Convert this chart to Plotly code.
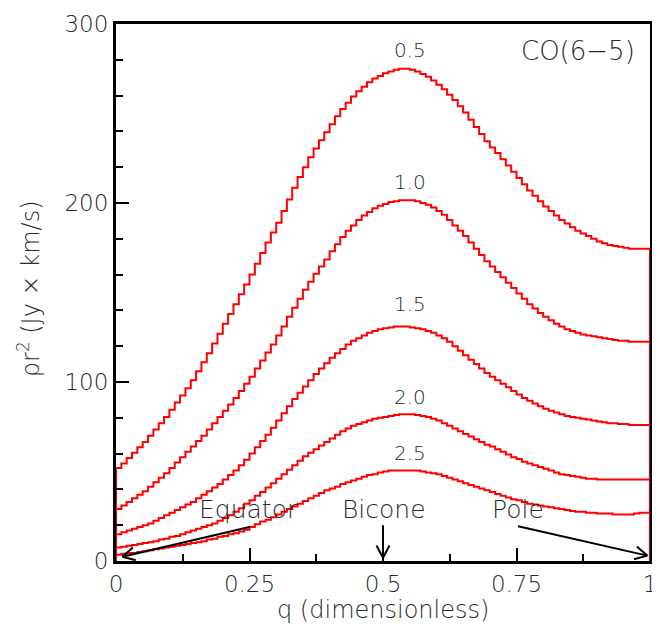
import numpy as np
import plotly.graph_objects as go

# ---------------- data ----------------
series_labels = ["0.5", "1.0", "1.5", "2.0", "2.5"]

vals_05 = [52, 54.5, 57.5, 60.5, 63.5, 66.5, 70, 73.5, 77, 80.5,
           84.5, 88.5, 92.5, 96.5, 101, 106, 111, 116, 121.5, 127,
           132.5, 138, 143.5, 149, 154.5, 160, 166, 172, 178, 183.5,
           189, 195.5, 202, 208.5, 214.5, 220, 225.5, 230.5, 235, 239.5,
           244, 248.5, 252.5, 256, 259.5, 262.5, 265, 267.5, 269.5, 271,
           272.5, 273.5, 274.5, 275, 275, 274.5, 273.5, 272, 270.5, 268.5,
           266, 263.5, 260.5, 257.5, 254, 250.5, 246.5, 242.5, 238.5, 234.5,
           231, 228, 224.5, 221, 217.5, 214, 210.5, 207, 204, 201,
           198, 195.5, 193, 190.5, 188.5, 186.5, 184.5, 183, 181.5, 180,
           178.5, 177.5, 176.5, 176, 175.5, 175, 174.5, 174.5, 174.5, 174.5]

vals_10 = [29, 31, 33, 35, 37, 39, 41.5, 44, 46.5, 49,
           52, 55, 58, 61, 64, 67, 70, 73.5, 77, 80.5,
           84, 87.5, 91, 95, 99, 103, 107.5, 112, 116.5, 121,
           126, 131, 136.5, 141.5, 146.5, 151.5, 156, 160.5, 164.5, 168.5,
           173, 177, 181, 184.5, 187.5, 190.5, 193, 195, 197, 198.5,
           199.5, 200.5, 201, 201.5, 201.5, 201.5, 201, 200, 199, 197.5,
           195.5, 193.5, 190.5, 187.5, 184.5, 181.5, 178, 174.5, 171, 167.5,
           164.5, 161.5, 158.5, 155.5, 152.5, 149.5, 146.5, 143.5, 141, 138.5,
           136.5, 134.5, 132.5, 131, 129.5, 128.5, 127.5, 126.5, 126, 125.5,
           125, 124.5, 124, 123.5, 123, 123, 122.5, 122.5, 122.5, 122.5]

vals_15 = [15, 16, 17, 18, 19, 20, 21, 22.5, 24, 25.5,
           27, 28.5, 30, 31.5, 33, 35, 37, 39, 41, 43,
           45.5, 48, 50.5, 53.5, 56.5, 60, 63.5, 67, 70.5, 74.5,
           78.5, 82.5, 86.5, 90.5, 94, 97.5, 101, 104.5, 107.5, 110.5,
           113.5, 116, 118.5, 121, 123, 124.5, 126, 127.5, 128.5, 129.5,
           130, 130.5, 131, 131, 131, 130.5, 130, 129.5, 128.5, 127.5,
           126, 124.5, 122.5, 120, 117.5, 115, 112.5, 110, 107.5, 105,
           103, 101, 99, 97, 95, 93, 91, 89.5, 88, 86.5,
           85, 84, 83, 82, 81, 80.5, 80, 79.5, 79, 78.5,
           78, 77.5, 77, 77, 76.5, 76.5, 76, 76, 76, 76]

vals_20 = [7.5, 8, 8.5, 9, 9.5, 10, 10.5, 11, 12, 12.5,
           13.5, 14, 15, 16, 17, 18, 19, 20, 21, 22.5,
           24, 25.5, 27.5, 29.5, 32, 34, 36.5, 38.5, 41, 43.5,
           46, 48.5, 51, 53.5, 56, 58.5, 60.5, 62.5, 64.5, 66.5,
           68.5, 70.5, 72.5, 74, 75.5, 76.5, 77.5, 78.5, 79.5, 80,
           80.5, 81, 81.5, 82, 82, 82, 81.5, 81, 80.5, 79.5,
           78.5, 77, 75.5, 74, 72.5, 71, 69.5, 68, 66.5, 65,
           64, 62.5, 61, 59.5, 58, 57, 55.5, 54.5, 53.5, 52.5,
           51.5, 50.5, 49.5, 48.5, 48, 47.5, 47, 46.5, 46, 46,
           45.5, 45.5, 45.5, 45.5, 45.5, 45.5, 45.5, 45.5, 45.5, 45.5]

vals_25 = [3.5, 4, 4.5, 4.5, 5, 5.5, 6, 6.5, 7, 7.5,
           8, 8.5, 9, 9.5, 10, 10.5, 11, 12, 12.5, 13.5,
           14, 15, 15.5, 16.5, 17.5, 19, 20.5, 22, 23, 24.5,
           26, 27.5, 29, 30.5, 32, 33.5, 35, 36.5, 38, 39.5,
           40.5, 41.5, 43, 44, 45, 46, 47, 48, 48.5, 49.5,
           50, 50.5, 50.5, 50.5, 50.5, 50.5, 50.5, 50, 49.5, 49,
           48.5, 47.5, 46.5, 45.5, 44.5, 43.5, 42.5, 41.5, 40.5, 39.5,
           38.5, 37.5, 36.5, 35.5, 34.5, 34, 33, 32, 31.5, 31,
           30.5, 30, 29.5, 29, 28.5, 28, 27.5, 27.5, 27, 27,
           26.5, 26.5, 26.5, 26, 26, 26, 26, 26.5, 27, 27]

all_series = [vals_05, vals_10, vals_15, vals_20, vals_25]

# label positions of the curve labels (data coords)
label_q = [0.55, 0.55, 0.55, 0.55, 0.55]
label_v = [285.5, 211.5, 143.5, 91.5, 60.5]

x_ticks = [0, 0.25, 0.5, 0.75, 1]
x_tick_text = ["0", "0.25", "0.5", "0.75", "1"]
y_ticks = [0, 100, 200, 300]
y_tick_text = ["0", "100", "200", "300"]

# ---------------- layout constants ----------------
# the page body has an 8px margin, so the figure is made 8px smaller
# and shifted so the plot area lands where it sits in the reference
OFF = 8
W, H = 660 - OFF, 633 - OFF
ML, MR, MT, MB = 116 - OFF, 3, 20 - OFF, 72
XR = [0, 1]
YR = [0, 300]
FONT = "DejaVu Sans"
TXT = "#2a2a2a"

fig = go.Figure()

n_bins = len(vals_05)
edges = np.linspace(XR[0], XR[1], n_bins + 1)

for vals in all_series:
    xs = [edges[0]] + list(edges[:-1]) + [edges[-1], edges[-1]]
    ys = [0] + list(vals) + [vals[-1], 0]
    fig.add_trace(go.Scatter(x=xs, y=ys, mode="lines",
                             line=dict(color="#ff0000", width=2, shape="hv"),
                             showlegend=False, hoverinfo="skip"))

for lab, q, v in zip(series_labels, label_q, label_v):
    fig.add_annotation(x=q, y=v, text=lab, showarrow=False,
                       font=dict(family=FONT, size=20, color=TXT, weight=200),
                       xanchor="center", yanchor="middle")

# ---------- arrows (shaft + open V head) ----------
pw = W - ML - MR
ph = H - MT - MB


def to_px(q, v):
    return (q - XR[0]) / (XR[1] - XR[0]) * pw, (v - YR[0]) / (YR[1] - YR[0]) * ph


def to_data(px, py):
    return XR[0] + px / pw * (XR[1] - XR[0]), YR[0] + py / ph * (YR[1] - YR[0])


def arrow(tail, head, arm=14, half_angle=28):
    tx, ty = to_px(*tail)
    hx, hy = to_px(*head)
    ang = np.arctan2(ty - hy, tx - hx)
    segs = [(tail, head)]
    for s in (+1, -1):
        a = ang + s * np.radians(half_angle)
        ex, ey = hx + arm * np.cos(a), hy + arm * np.sin(a)
        segs.append((head, to_data(ex, ey)))
    for (x0, y0), (x1, y1) in segs:
        fig.add_shape(type="line", x0=x0, y0=y0, x1=x1, y1=y1,
                      xref="x", yref="y", line=dict(color="black", width=2))


arrow((0.25, 19.0), (0.012, 2.4))
arrow((0.5, 20.0), (0.5, 1.8))
arrow((0.753, 19.4), (0.995, 3.0))

for txt, q, v in [("Equator", 0.249, 28.5), ("Bicone", 0.502, 28.8), ("Pole", 0.753, 28.8)]:
    fig.add_annotation(x=q, y=v, text=txt, showarrow=False,
                       font=dict(family=FONT, size=25, color=TXT, weight=200),
                       xanchor="center", yanchor="middle")

fig.add_annotation(x=0.975, y=285, xref="paper", yref="y", text="CO(6\u22125)",
                   showarrow=False, xanchor="right", yanchor="middle",
                   font=dict(family=FONT, size=26, color=TXT, weight=200))

# axis titles (reference pixel positions converted to paper coords)
fig.add_annotation(x=(386 - 116) / pw, y=(561 - 610) / ph, xref="paper", yref="paper",
                   text="q (dimensionless)", showarrow=False,
                   xanchor="center", yanchor="middle",
                   font=dict(family=FONT, size=24, color=TXT, weight=200))
fig.add_annotation(x=(28 - 116) / pw, y=(561 - 287) / ph, xref="paper", yref="paper",
                   text="\u03c1r<sup>2</sup> (Jy \u00d7 km/s)", showarrow=False, textangle=-90,
                   xanchor="center", yanchor="middle",
                   font=dict(family=FONT, size=24, color=TXT, weight=200))

axis_common = dict(showgrid=False, zeroline=False, showline=True, linecolor="black",
                   linewidth=3, mirror=True, ticks="inside", tickcolor="black",
                   tickwidth=2, ticklen=13, ticklabeloverflow="allow",
                   tickfont=dict(family=FONT, size=23, color=TXT, weight=200))

fig.update_xaxes(range=XR, tickvals=x_ticks, ticktext=x_tick_text,
                 minor=dict(ticks="inside", ticklen=7, tickwidth=2, tickcolor="black",
                            dtick=0.125, tick0=0),
                 **axis_common)
fig.update_yaxes(range=YR, tickvals=y_ticks, ticktext=y_tick_text,
                 minor=dict(ticks="inside", ticklen=7, tickwidth=2, tickcolor="black",
                            dtick=20, tick0=0),
                 **axis_common)

fig.update_layout(width=W, height=H, margin=dict(l=ML, r=MR, t=MT, b=MB),
                  plot_bgcolor="white", paper_bgcolor="white",
                  font=dict(family=FONT, color=TXT))

fig.write_html("out.html")
